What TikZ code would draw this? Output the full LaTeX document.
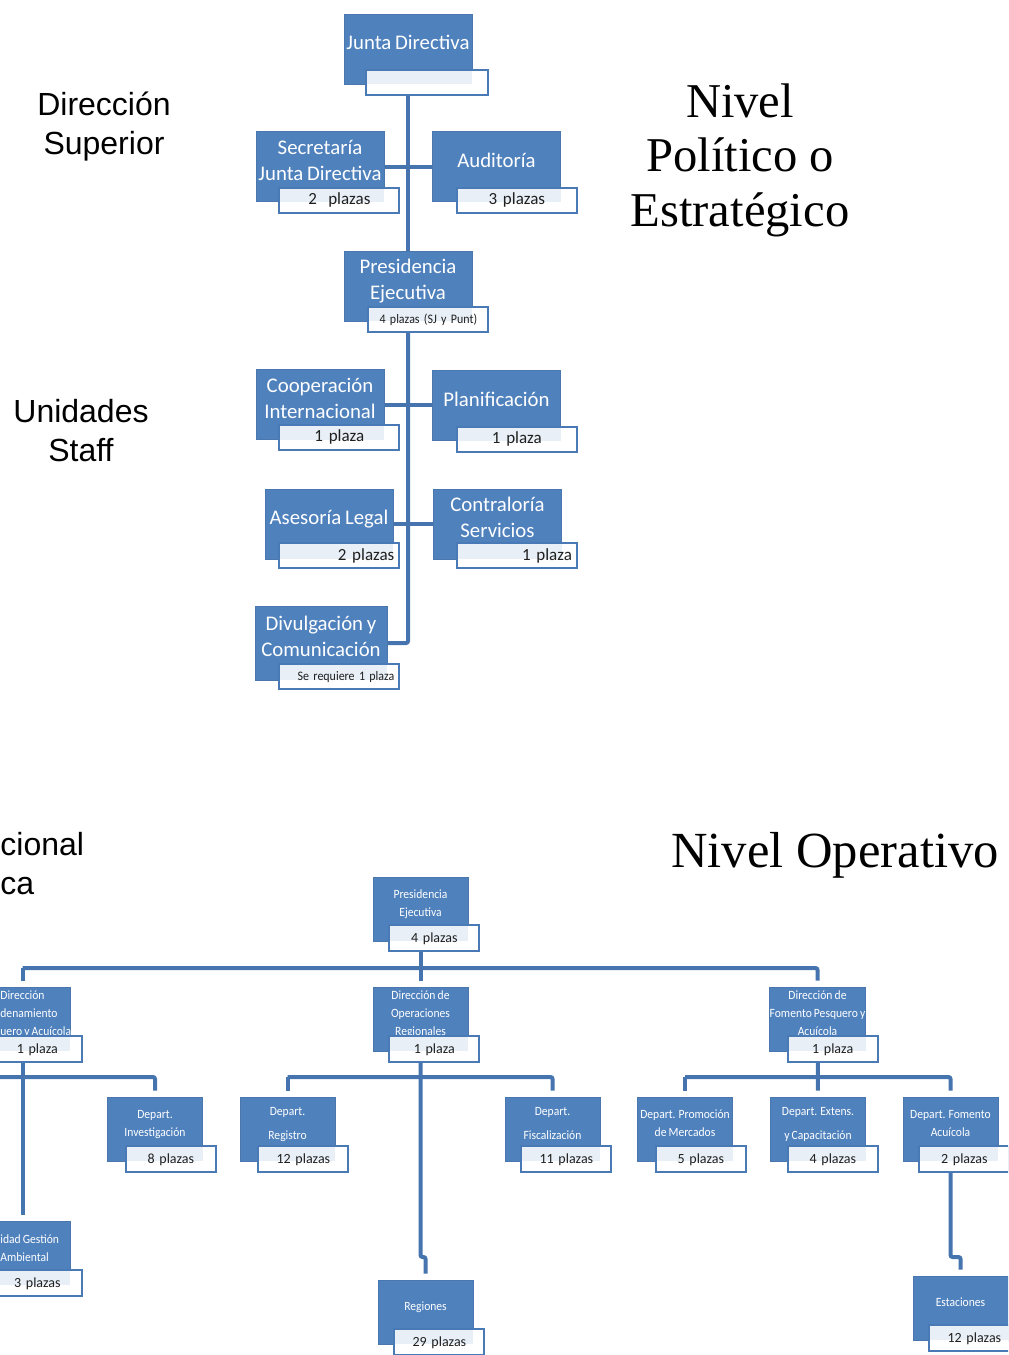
\documentclass[tikz,border=0pt]{standalone}
\usepackage{fontspec}
\setmainfont[WordSpace=0.8]{Carlito}
\newfontfamily\narrowfont[FakeStretch=0.92, WordSpace=0.8]{Carlito}
\newfontfamily\arialfont{Liberation Sans}
\newfontfamily\timesfont{Liberation Serif}
\usetikzlibrary{backgrounds}

\definecolor{unitblue}{HTML}{4F81BD}
\definecolor{linkblue}{HTML}{4674AE}
\definecolor{plazaline}{HTML}{4A7AB6}

\begin{document}
\begin{tikzpicture}[
            x = 0.5pt, y = -0.5pt, % one unit = one pixel, y downwards
            link/.style = {draw = linkblue, line width = 2pt, rounded corners = 1pt},
            drop/.style = {link, shorten > = 3pt}, % stop short of the box
            unit/.style = {rectangle, fill = unitblue, draw = unitblue!92!black,
                line width = 0.4pt, text = white, align = center,
                minimum width = 64pt, minimum height = 35pt, inner sep = 1pt,
                text depth = 6.5pt, font = \fontsize{10.4}{13}\selectfont},
            plaza/.style = {rectangle, fill = white, draw = plazaline,
                line width = 1pt, text = black!88, text width = 55pt,
                minimum height = 12.5pt, inner xsep = 2.5pt, inner ysep = 0pt,
                align = center, font = \fontsize{8.5}{9}\selectfont},
            over/.style = {path picture = {% pale band where the blue box lies under it
                \fill[unitblue!13] (path picture bounding box.north west) rectangle (#1.south east);}},
            unitsm/.style = {unit, minimum width = 47.5pt, minimum height = 32pt,
                inner xsep = 0pt, text depth = 6pt,
                font = \narrowfont\fontsize{6.3}{9}\selectfont},
            plazasm/.style = {plaza, text width = 40pt, minimum height = 13pt,
                font = \fontsize{7}{8}\selectfont},
            unittext/.style = {text = white, inner sep = 0pt, align = left,
                font = \narrowfont\fontsize{6.3}{9}\selectfont},
            side/.style = {align = center, inner sep = 0pt,
                font = \arialfont\fontsize{16}{19.5}\selectfont},
            nivel/.style = {align = center, inner sep = 0pt,
                font = \timesfont\fontsize{24.3}{27.2}\selectfont}
        ]

        \useasboundingbox (0,0) rectangle (1008,1355);
        \clip (0,0) rectangle (1008,1355);

        % nivel politico
	\node[unit] (jd) at (408,49) {Junta Directiva};
	\node[plaza, over=jd, anchor=south east, text width=56pt] (jdp) at ([shift={(17,12)}]jd.south east) {};
	\node[unit] (sjd) at (320,166.5) {Secretaría\\Junta Directiva};
	\node[plaza, over=sjd, anchor=south east] (sjdp) at ([shift={(16,12)}]sjd.south east) {2~ plazas};
	\node[unit] (aud) at (496.5,166.5) {Auditoría};
	\node[plaza, over=aud, anchor=south east] (audp) at ([shift={(17,12)}]aud.south east) {3 plazas};
	\node[unit] (pe) at (408,286) {Presidencia\\Ejecutiva};
	\node[plaza, over=pe, anchor=south east, font=\narrowfont\fontsize{6.5}{7}\selectfont] (pep) at ([shift={(17,12)}]pe.south east) {4 plazas (SJ y Punt)};
	\node[unit] (ci) at (320,404.5) {Cooperación\\Internacional};
	\node[plaza, over=ci, anchor=south east] (cip) at ([shift={(16,11)}]ci.south east) {1 plaza};
	\node[unit] (pla) at (496.5,405.5) {Planificación};
	\node[plaza, over=pla, anchor=south east] (plap) at ([shift={(17,12)}]pla.south east) {1 plaza};
	\node[unit] (al) at (329,524) {Asesoría Legal};
	\node[plaza, over=al, anchor=south east, align=right] (alp) at ([shift={(7,10)}]al.south east) {2 plazas};
	\node[unit] (cs) at (497.5,524) {Contraloría\\Servicios};
	\node[plaza, over=cs, anchor=south east, align=right] (csp) at ([shift={(16,10)}]cs.south east) {1 plaza};
	\node[unit, minimum width=66pt, minimum height=37pt] (dc) at (321,643) {Divulgación y\\Comunicación};
	\node[plaza, over=dc, anchor=south east, align=right, font=\narrowfont\fontsize{6.5}{7}\selectfont] (dcp) at ([shift={(13,10)}]dc.south east) {Se requiere 1 plaza};

        % nivel operativo
	\node[unitsm] (pe2) at (420.5,909) {Presidencia\\Ejecutiva};
	\node[plazasm, over=pe2, anchor=south east] (pe2p) at ([shift={(12,11)}]pe2.south east) {4 plazas};
	\node[unitsm] (dor) at (22.5,1019) {};
	\node[unittext, anchor=west] (dortx) at (0,1014) {Dirección\\denamiento\\uero y Acuícola};
	\node[plazasm, over=dor, anchor=south east] (dorp) at ([shift={(13,12)}]dor.south east) {1 plaza};
	\node[unitsm] (dop) at (420.5,1019) {Dirección de\\Operaciones\\Regionales};
	\node[plazasm, over=dop, anchor=south east] (dopp) at ([shift={(12,12)}]dop.south east) {1 plaza};
	\node[unitsm] (dfp) at (817.5,1019) {Dirección de\\Fomento Pesquero y\\Acuícola};
	\node[plazasm, over=dfp, anchor=south east] (dfpp) at ([shift={(13,12)}]dfp.south east) {1 plaza};

	\node[unitsm] (inv) at (155,1129) {Depart.\\Investigación};
	\node[plazasm, over=inv, anchor=south east] (invp) at ([shift={(14,12)}]inv.south east) {8 plazas};
	\node[unitsm] (dr) at (287.5,1129) {Depart.\\[3pt]Registro};
	\node[plazasm, over=dr, anchor=south east] (drp) at ([shift={(14,12)}]dr.south east) {12 plazas};
	\node[unitsm] (dfi) at (552.5,1129) {Depart.\\[3pt]Fiscalización};
	\node[plazasm, over=dfi, anchor=south east] (dfip) at ([shift={(12,12)}]dfi.south east) {11 plazas};
	\node[unitsm] (dpm) at (685,1129) {Depart. Promoción\\de Mercados};
	\node[plazasm, over=dpm, anchor=south east] (dpmp) at ([shift={(14,12)}]dpm.south east) {5 plazas};
	\node[unitsm] (dec) at (818,1129) {Depart. Extens.\\[3pt]y Capacitación};
	\node[plazasm, over=dec, anchor=south east] (decp) at ([shift={(13,12)}]dec.south east) {4 plazas};
	\node[unitsm] (dfa) at (950.5,1129) {Depart. Fomento\\Acuícola};
	\node[plazasm, over=dfa, anchor=south east] (dfap) at ([shift={(12,12)}]dfa.south east) {2 plazas};

	\node[unitsm] (uga) at (22.5,1253) {};
	\node[unittext, anchor=west] (ugatx) at (0,1248) {idad Gestión\\Ambiental};
	\node[plazasm, over=uga, anchor=south east] (ugap) at ([shift={(13,12)}]uga.south east) {3 plazas};
	\node[unitsm] (reg) at (425.5,1312) {Regiones};
	\node[plazasm, over=reg, anchor=south east] (regp) at ([shift={(12,12)}]reg.south east) {29 plazas};
	\node[unitsm] (est) at (960.5,1308) {Estaciones};
	\node[plazasm, over=est, anchor=south east] (estp) at ([shift={(12,12)}]est.south east) {12 plazas};

        % titulos
	\node[side] (dsup) at (104,127) {Dirección\\Superior};
	\node[side] (staff) at (81,431) {Unidades\\Staff};
	\node[side, anchor=west, align=left] (cional) at (0,864) {cional\\ca};
	\node[nivel] (npol) at (740,160) {Nivel\\Político o\\Estratégico};
	\node[nivel, font=\timesfont\fontsize{25.3}{28}\selectfont] (nop) at (835,855) {Nivel Operativo};

        \coordinate (busT) at (0,968);
        \coordinate (busL) at (-30,1077);
        \coordinate (busM) at (0,1077);
        \coordinate (jog) at (0,1257);

        \begin{pgfonlayer}{background}
        \path[link] (jd) -- (pe);
        \path[link] (sjd) -- (aud);
        \path[link] (pe) |- (dc);
        \path[link] (ci) -- (ci -| pla);
        \path[link] (al) -- (cs);

        \path[drop] (pe2) -- (dop.north);
        \path[drop] (dor.north |- busT) -| (dfp.north);
        \path[drop] (dor.north |- busT) -- (dor.north);
        \path[drop] (dor) -- (uga.north);
        \path[drop] (busL) -| (inv.north);
        \path[drop] (dr.north |- busM) -| (dfi.north);
        \path[drop] (dr.north |- busM) -- (dr.north);
        \path[drop] (dop) -- (dop |- jog) -| (reg.north);
        \path[drop] (dfp) -- (dec.north);
        \path[drop] (dpm.north |- busM) -| (dfa.north);
        \path[drop] (dpm.north |- busM) -- (dpm.north);
        \path[drop] (dfa) -- (dfa |- jog) -| (est.north);
        \end{pgfonlayer}

\end{tikzpicture}
\end{document}
